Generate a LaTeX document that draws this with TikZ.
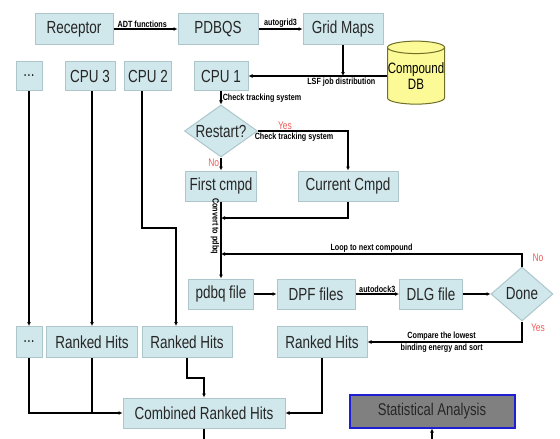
\documentclass[tikz,border=0pt]{standalone}
\usepackage{fontspec}
\setmainfont{Liberation Sans}
\newfontfamily\boxfont{Liberation Sans}[FakeStretch=0.77]
\newfontfamily\tagfont{Liberation Sans}[FakeStretch=0.8]
\usetikzlibrary{arrows.meta,shapes.geometric,calc}

\definecolor{boxfill}{RGB}{208,232,236}
\definecolor{boxline}{RGB}{172,198,204}
\definecolor{dbfill}{RGB}{252,250,150}
\definecolor{dbline}{RGB}{110,110,40}
\definecolor{yesno}{RGB}{240,90,90}
\definecolor{statfill}{RGB}{128,128,128}
\definecolor{statline}{RGB}{30,30,210}

\tikzset{
  stepbox/.style={draw=boxline,fill=boxfill,line width=1pt,font=\boxfont\fontsize{17.5}{19}\selectfont,text=black!85,inner sep=0pt},
  decision/.style={diamond,draw=boxline,fill=boxfill,line width=1pt,font=\boxfont\fontsize{17.5}{19}\selectfont,text=black!85,inner sep=0pt,aspect=1.4},
  flow/.style={line width=1.6pt,-{Latex[length=4pt,width=4pt]}},
  plain/.style={line width=1.6pt},
  tag/.style={font=\tagfont\bfseries\fontsize{9}{10}\selectfont,inner sep=1pt},
  yn/.style={font=\boxfont\fontsize{11}{12}\selectfont,text=yesno,inner sep=1pt}
}

\begin{document}
\begin{tikzpicture}[x=1pt,y=-1pt]
\useasboundingbox (0,0) rectangle (560,439);

% Preparation
\node[stepbox,minimum width=78pt,minimum height=31pt] (receptor) at (74,29) {Receptor};
\node[stepbox,minimum width=80pt,minimum height=31pt] (pdbqs) at (218,29) {PDBQS};
\node[stepbox,minimum width=80pt,minimum height=31pt] (grid) at (343,29) {Grid Maps};
\node[cylinder,shape border rotate=90,aspect=0.22,draw=dbline,fill=dbfill,line width=1pt,
  minimum height=63pt,minimum width=57pt,inner sep=0pt,align=center,
  font=\boxfont\fontsize{15}{16}\selectfont] (db) at (416,76) {Compound\\DB};

\draw[flow] (receptor) -- node[tag,above,pos=0.45] {ADT functions} (pdbqs);
\draw[flow] (pdbqs) -- node[tag,above] {autogrid3} (grid);

% CPUs
\node[stepbox,minimum width=26pt,minimum height=29pt] (dotsa) at (29,76) {...};
\node[stepbox,minimum width=50pt,minimum height=29pt] (cpuc) at (90,76) {CPU 3};
\node[stepbox,minimum width=47pt,minimum height=29pt] (cpub) at (148,76) {CPU 2};
\node[stepbox,minimum width=54pt,minimum height=29pt] (cpua) at (221,76) {CPU 1};

% LSF distribution
\draw[flow] (db.west |- cpua.east) -- node[tag,below,pos=0.33] {LSF job distribution} (cpua.east);
\coordinate (lsf) at (grid.south |- cpua.east);
\draw[flow] (grid.south) -- (lsf);

% Restart check
\node[decision,minimum width=73pt,minimum height=52pt] (restart) at (221,131) {Restart?};
\node[stepbox,minimum width=71pt,minimum height=30pt] (first) at (221,186) {First cmpd};
\node[stepbox,minimum width=100pt,minimum height=30pt] (current) at (348,186) {Current Cmpd};

\draw[flow] (cpua) -- node[tag,right] {Check tracking system} (restart);
\draw[flow] (restart.east) -- node[yn,above,pos=0.3] {Yes} node[tag,below,pos=0.4] {Check tracking system} (current.north |- restart.east) -- (current.north);
\draw[flow] (restart) -- node[yn,left,pos=0.4] {No} (first);

% Docking loop
\node[stepbox,minimum width=65pt,minimum height=30pt] (pdbq) at (221,294) {pdbq file};
\node[stepbox,minimum width=78pt,minimum height=30pt] (dpf) at (316,294) {DPF files};
\node[stepbox,minimum width=63pt,minimum height=30pt] (dlg) at (431,294) {DLG file};
\node[decision,minimum width=62pt,minimum height=54pt] (done) at (522,294) {Done};

\draw[flow] (first) -- node[tag,rotate=-90,below,pos=0.32] {Convert to pdbq} (pdbq);
\coordinate (join) at (221,218);
\draw[flow] (current.south) |- (join);
\coordinate (loop) at (221,254);
\draw[flow] (done.north) |- node[tag,above,pos=0.75] {Loop to next compound} (loop);
\node[yn] at (538,258) {No};

\draw[flow] (pdbq) -- (dpf);
\draw[flow] (dpf) -- node[tag,above] {autodock3} (dlg);
\draw[flow] (dlg) -- (done);

% Ranked hits
\node[stepbox,minimum width=90pt,minimum height=31pt] (hitsa) at (322,342) {Ranked Hits};
\node[stepbox,minimum width=26pt,minimum height=31pt] (dotsb) at (29,342) {...};
\node[stepbox,minimum width=91pt,minimum height=31pt] (hitsc) at (92,342) {Ranked Hits};
\node[stepbox,minimum width=90pt,minimum height=31pt] (hitsb) at (187,342) {Ranked Hits};

\draw[flow] (done.south) |- node[tag,above,pos=0.76] {Compare the lowest} node[tag,below,pos=0.76] {binding energy and sort} (hitsa.east);
\node[yn] at (538,328) {Yes};

\draw[flow] (dotsa) -- (dotsb);
\draw[flow] (cpuc.south -| hitsc.north) -- (hitsc.north);
\draw[flow] ([xshift=-6pt]cpub.south) -- ++(0,137) -| ([xshift=-11pt]hitsb.north);

% Combined
\node[stepbox,minimum width=162pt,minimum height=30pt] (combined) at (204,413) {Combined Ranked Hits};
\node[draw=statline,fill=statfill,line width=2pt,minimum width=165pt,minimum height=33pt,
  font=\boxfont\fontsize{17}{19}\selectfont,text=black!85] (stats) at (432,411) {Statistical Analysis};

\draw[flow] (dotsb.south) |- (combined.west);
\draw[plain] (hitsc.south) -- (hitsc.south |- combined.west);
\draw[flow] (hitsb.south) -- ++(0,20) -| (combined.north);
\draw[flow] (hitsa.south) |- (combined.east);
\coordinate (out) at (204,439);
\draw[plain] (combined.south) -- (out);
\coordinate (in) at (432,439);
\draw[flow] (in) -- (stats.south);

\end{tikzpicture}
\end{document}
